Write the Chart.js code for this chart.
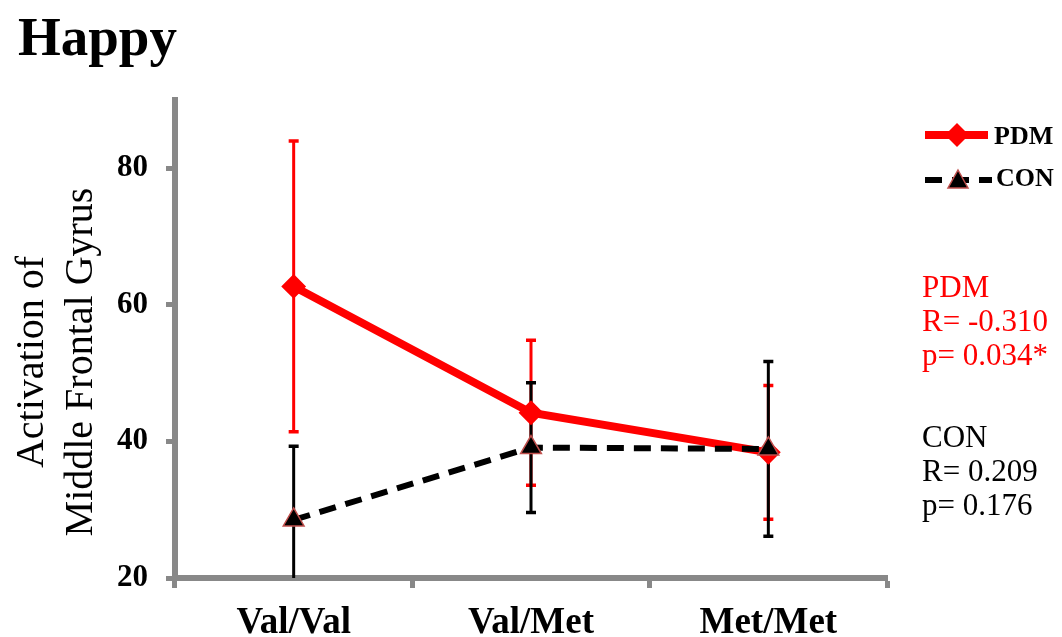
<!DOCTYPE html>
<html>
<head>
<meta charset="utf-8">
<script src="https://cdn.jsdelivr.net/npm/chart.js@4"></script>
<style>
  html, body { margin: 0; padding: 0; background: #fff; }
  #wrap { width: 1062px; height: 637px; }
</style>
</head>
<body>
<div id="wrap"><canvas id="chart" width="1062" height="637"></canvas></div>
<script>
const categories = ['Val/Val', 'Val/Met', 'Met/Met'];
const pdmMean = [62.7, 44.2, 38.4];
const pdmErr = [21.3, 10.6, 9.8];
const conMean = [28.5, 39.1, 38.9];
const conErr = [10.8, 9.5, 12.8];
const yTicks = [20, 40, 60, 80];

const serif = '"Liberation Serif", "Times New Roman", serif';
const gray = '#888888';

// error bars, drawn under the lines
const errorBars = {
  id: 'errorBars',
  beforeDatasetsDraw(chart) {
    const ctx = chart.ctx;
    const x = chart.scales.x, y = chart.scales.y;
    const area = chart.chartArea;
    ctx.save();
    ctx.beginPath();
    ctx.rect(area.left, area.top - 20, area.right - area.left, area.bottom - area.top + 20);
    ctx.clip();
    [[pdmMean, pdmErr, '#ff0000'], [conMean, conErr, '#000000']].forEach(([m, e, col]) => {
      ctx.strokeStyle = col;
      m.forEach((v, i) => {
        const px = x.getPixelForValue(i);
        const top = y.getPixelForValue(v + e[i]);
        const bot = y.getPixelForValue(v - e[i]);
        ctx.lineWidth = 3;
        ctx.beginPath();
        ctx.moveTo(px, top); ctx.lineTo(px, bot);
        ctx.stroke();
        ctx.lineWidth = 3.5;
        ctx.beginPath();
        ctx.moveTo(px - 5, top); ctx.lineTo(px + 5, top);
        ctx.moveTo(px - 5, bot); ctx.lineTo(px + 5, bot);
        ctx.stroke();
      });
    });
    ctx.restore();
  }
};

// title, y title, legend, stats text
const decorations = {
  id: 'decorations',
  afterDraw(chart) {
    const ctx = chart.ctx;
    ctx.save();
    ctx.fillStyle = '#000';
    ctx.textBaseline = 'alphabetic';
    ctx.textAlign = 'left';
    ctx.font = 'bold 55px ' + serif;
    ctx.fillText('Happy', 18, 55);

    ctx.save();
    ctx.translate(0, 362);
    ctx.rotate(-Math.PI / 2);
    ctx.textAlign = 'center';
    ctx.font = '40px ' + serif;
    ctx.fillText('Activation of', 0, 43);
    ctx.fillText('Middle Frontal Gyrus', 0, 92);
    ctx.restore();

    // legend
    ctx.lineWidth = 8;
    ctx.strokeStyle = '#ff0000';
    ctx.beginPath();
    ctx.moveTo(925, 135); ctx.lineTo(988, 135);
    ctx.stroke();
    ctx.fillStyle = '#ff0000';
    ctx.beginPath();
    ctx.moveTo(957, 123); ctx.lineTo(969, 135); ctx.lineTo(957, 147); ctx.lineTo(945, 135);
    ctx.closePath();
    ctx.fill();

    ctx.lineWidth = 6;
    ctx.strokeStyle = '#000';
    ctx.setLineDash([17, 10]);
    ctx.beginPath();
    ctx.moveTo(925, 180); ctx.lineTo(992, 180);
    ctx.stroke();
    ctx.setLineDash([]);
    ctx.fillStyle = '#000';
    ctx.strokeStyle = '#c0504d';
    ctx.lineWidth = 1.5;
    ctx.beginPath();
    ctx.moveTo(958, 170); ctx.lineTo(968, 188); ctx.lineTo(948, 188);
    ctx.closePath();
    ctx.fill(); ctx.stroke();

    ctx.font = 'bold 26px ' + serif;
    ctx.textBaseline = 'middle';
    ctx.fillStyle = '#000';
    ctx.fillText('PDM', 994, 137);
    ctx.fillText('CON', 996, 179);

    // stats
    ctx.font = '31px ' + serif;
    ctx.fillStyle = '#ff0000';
    ['PDM', 'R= -0.310', 'p= 0.034*'].forEach((t, i) => ctx.fillText(t, 922, 289 + i * 34));
    ctx.fillStyle = '#000';
    ['CON', 'R= 0.209', 'p= 0.176'].forEach((t, i) => ctx.fillText(t, 922, 439 + i * 34));
    ctx.restore();
  }
};

new Chart(document.getElementById('chart'), {
  type: 'line',
  data: {
    labels: categories,
    datasets: [
      {
        label: 'PDM',
        data: pdmMean,
        order: 2,
        borderColor: '#ff0000',
        backgroundColor: '#ff0000',
        borderWidth: 8,
        pointStyle: 'rectRot',
        pointRadius: 11,
        pointBorderWidth: 2,
        pointBackgroundColor: '#ff0000',
        pointBorderColor: '#ff0000',
        tension: 0
      },
      {
        label: 'CON',
        data: conMean,
        order: 1,
        borderColor: '#000000',
        backgroundColor: '#000000',
        borderWidth: 6,
        borderDash: [17, 10],
        pointStyle: 'triangle',
        pointRadius: 12,
        pointBorderWidth: 1.5,
        pointBackgroundColor: '#000000',
        pointBorderColor: '#c0504d',
        tension: 0
      }
    ]
  },
  options: {
    responsive: false,
    animation: false,
    layout: { autoPadding: false, padding: { left: 0, top: 100, right: 175, bottom: 0 } },
    plugins: { legend: { display: false }, tooltip: { enabled: false } },
    scales: {
      x: {
        offset: true,
        grid: { offset: true, drawOnChartArea: false, tickLength: 10, tickColor: gray, tickWidth: 5 },
        border: { color: gray, width: 6 },
        ticks: { color: '#000', padding: 13, font: { family: serif, size: 37, weight: 'bold' } },
        afterFit(s) { s.height = 59; }
      },
      y: {
        min: 20,
        max: 90,
        afterBuildTicks(s) { s.ticks = yTicks.map(v => ({ value: v })); },
        grid: { drawOnChartArea: false, tickLength: 9, tickColor: gray, tickWidth: 5 },
        border: { color: gray, width: 6 },
        ticks: { color: '#000', padding: 18, font: { family: serif, size: 31, weight: 'bold' } },
        afterFit(s) { s.width = 175; }
      }
    }
  },
  plugins: [errorBars, decorations]
});
</script>
</body>
</html>
